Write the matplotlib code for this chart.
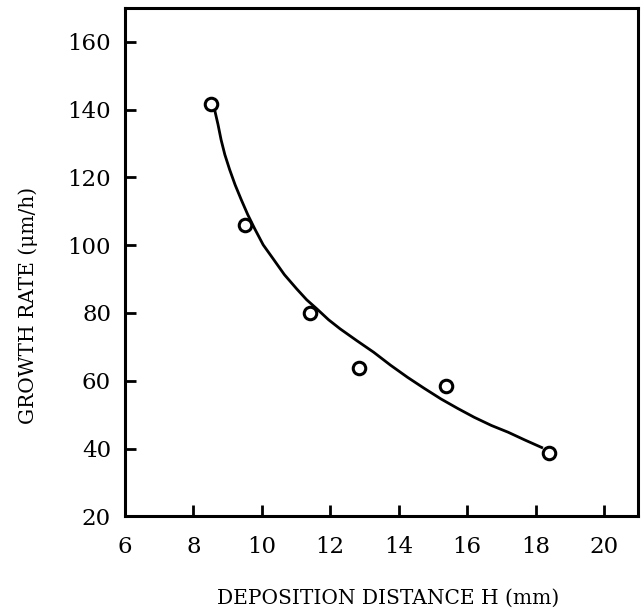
import matplotlib
matplotlib.use("Agg")
import matplotlib.pyplot as plt

# measured points (deposition distance H in mm, growth rate in um/h)
distance = [8.52, 9.5, 11.4, 12.83, 15.38, 18.39]
growth_rate = [141.8, 106.0, 80.0, 63.7, 58.5, 38.6]

# fitted curve
curve_x = [8.62, 8.72, 8.81, 8.92, 9.06, 9.22, 9.40, 9.59, 9.79, 10.04,
           10.33, 10.66, 11.02, 11.31, 11.61, 11.95, 12.29, 12.78, 13.27,
           13.76, 14.26, 14.74, 15.24, 15.73, 16.21, 16.71, 17.20, 17.69,
           18.18]
curve_y = [140.0, 135.6, 131.1, 126.7, 122.3, 117.8, 113.4, 109.0, 104.9,
           100.1, 96.0, 91.3, 87.1, 83.9, 81.2, 78.0, 75.3, 71.8, 68.4,
           64.6, 61.0, 57.8, 54.6, 51.8, 49.2, 46.8, 44.8, 42.5, 40.3]

x_ticks = [6, 8, 10, 12, 14, 16, 18, 20]
y_ticks = [20, 40, 60, 80, 100, 120, 140, 160]

plt.rcParams['font.family'] = ['DejaVu Serif']

fig = plt.figure(figsize=(6.44, 6.11), dpi=100)
ax = fig.add_axes([0.194, 0.155, 0.797, 0.832])

ax.plot(curve_x, curve_y, color='black', linewidth=2)
ax.plot(distance, growth_rate, linestyle='none', marker='o', markersize=9,
        markerfacecolor='white', markeredgecolor='black', markeredgewidth=2.2)

ax.set_xlim(6, 21)
ax.set_ylim(20, 170)
ax.set_xticks(x_ticks)
ax.set_yticks(y_ticks)
ax.tick_params(direction='in', length=8, width=2, labelsize=16.5)
ax.tick_params(axis='x', pad=14)
ax.tick_params(axis='y', pad=10)

for sp in ax.spines.values():
    sp.set_linewidth(2.2)

ax.set_xlabel('DEPOSITION DISTANCE H (mm)', fontsize=14.5)
ax.set_ylabel('GROWTH RATE (\u03bcm/h)', fontsize=14.5)
ax.xaxis.label.set_va('center')
ax.yaxis.label.set_va('center')
ax.xaxis.set_label_coords(0.512, -0.161)
ax.yaxis.set_label_coords(-0.189, 0.414)

fig.savefig('out.png', dpi=100)
